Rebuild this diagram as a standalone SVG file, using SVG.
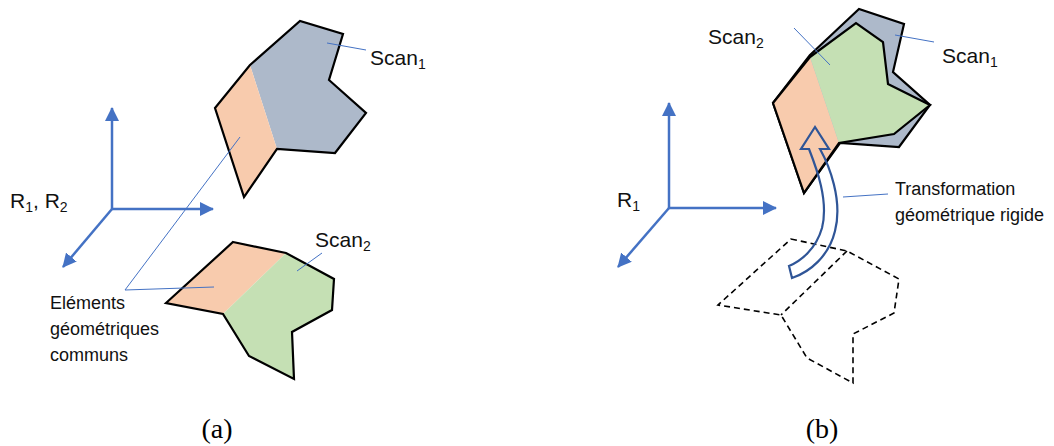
<svg xmlns="http://www.w3.org/2000/svg" width="1054" height="446" viewBox="0 0 1054 446">
<style>
.poly{stroke:#000;stroke-width:2.2;stroke-linejoin:miter}
.or{fill:#F8CBAD}.gr{fill:#ADB9CA}.gn{fill:#C5E0B4}
.dash{fill:none;stroke:#000;stroke-width:1.6;stroke-dasharray:6 4}
.axis{stroke:#4472C4;stroke-width:2.5;fill:none}
.lead{stroke:#4472C4;stroke-width:1;fill:none}
.lbl{font-family:"Liberation Sans",Arial,sans-serif;font-size:21px;fill:#111}
.sm{font-family:"Liberation Sans",Arial,sans-serif;font-size:18px;fill:#111}
.cap{font-family:"Liberation Serif","Times New Roman",serif;font-size:28px;fill:#000}
</style>
<defs>
<marker id="ah" viewBox="0 0 14 14" refX="13" refY="7" markerWidth="14" markerHeight="14" markerUnits="userSpaceOnUse" orient="auto">
<path d="M0,0 L14,7 L0,14 Z" fill="#4472C4"/>
</marker>
</defs>

<g id="scan1-a">
<polygon class="gr" points="250,65 300,21 343,34 329,80 366,113 335,153 277,149"/>
<polygon class="or" points="250,65 277,149 244,197 215,108"/>
<polygon class="poly" fill="none" points="250,65 300,21 343,34 329,80 366,113 335,153 277,149 244,197 215,108"/>
</g>

<g id="scan2-a">
<polygon class="or" points="233,242 286,253 223,314 166,303"/>
<polygon class="gn" points="286,253 334,279 332,310 292,332 294,379 249,356 223,314"/>
<polygon class="poly" fill="none" points="233,242 286,253 334,279 332,310 292,332 294,379 249,356 223,314 166,303"/>
</g>

<g id="scan1-b">
<polygon class="gr poly" points="810,55 859,9 904,24 893,72 930,105 899,147 840,143 804,193 773,103"/>
</g>

<g id="scan2-b">
<polygon class="or" points="810,57 839,143 804,193 773,103"/>
<polygon class="gn" points="810,57 856,23 883,42 888,84 930,105 894,134 839,143"/>
<polygon class="poly" fill="none" points="810,57 856,23 883,42 888,84 930,105 894,134 839,143 804,193 773,103"/>
</g>

<g id="scan2-original">
<polygon class="dash" points="791,239 847,251 899,279 894,313 853,334 853,383 807,358 781,315 718,305"/>
<line class="dash" x1="847" y1="251" x2="781" y2="315"/>
</g>

<g id="connectors">
<line class="axis" x1="112" y1="209" x2="112" y2="108" marker-end="url(#ah)"/>
<line class="axis" x1="112" y1="209" x2="213" y2="209" marker-end="url(#ah)"/>
<line class="axis" x1="112" y1="209" x2="63" y2="267" marker-end="url(#ah)"/>
<line class="axis" x1="669" y1="208" x2="669" y2="103" marker-end="url(#ah)"/>
<line class="axis" x1="669" y1="208" x2="776" y2="208" marker-end="url(#ah)"/>
<line class="axis" x1="669" y1="208" x2="618" y2="267" marker-end="url(#ah)"/>
<line class="lead" x1="327" y1="43" x2="366" y2="50"/>
<line class="lead" x1="297" y1="271" x2="322" y2="253"/>
<polyline class="lead" points="240,137 125,290 214,287"/>
<line class="lead" x1="794" y1="28" x2="830" y2="65"/>
<line class="lead" x1="895" y1="35" x2="934" y2="42"/>
<line class="lead" x1="843" y1="197" x2="888" y2="194"/>
<path id="transform-arrow" d="M815,127 L801,149 L809,149 C816,167 829,200 822,228 C816,249 801,261 789,266 L792,278 C810,272 829,256 835,231 C843,200 829,165 820,149 L829,149 Z" fill="none" stroke="#2F5597" stroke-width="2.2" stroke-linejoin="miter"/>
</g>

<g id="labels">
<text class="lbl" x="370" y="65">Scan<tspan font-size="14" dy="4">1</tspan></text>
<text class="lbl" x="315" y="247">Scan<tspan font-size="14" dy="4">2</tspan></text>
<text class="lbl" x="10" y="208">R<tspan font-size="14" dy="4">1</tspan><tspan dy="-4">, R</tspan><tspan font-size="14" dy="4">2</tspan></text>
<text class="sm" x="50" y="309">Eléments</text>
<text class="sm" x="50" y="335">géométriques</text>
<text class="sm" x="50" y="361">communs</text>
<text class="lbl" x="708" y="44">Scan<tspan font-size="14" dy="4">2</tspan></text>
<text class="lbl" x="942" y="63">Scan<tspan font-size="14" dy="4">1</tspan></text>
<text class="lbl" x="617" y="207">R<tspan font-size="14" dy="4">1</tspan></text>
<text class="sm" x="895" y="195">Transformation</text>
<text class="sm" x="895" y="221">géométrique rigide</text>
<text class="cap" x="217" y="438" text-anchor="middle">(a)</text>
<text class="cap" x="822" y="438" text-anchor="middle">(b)</text>
</g>
</svg>
